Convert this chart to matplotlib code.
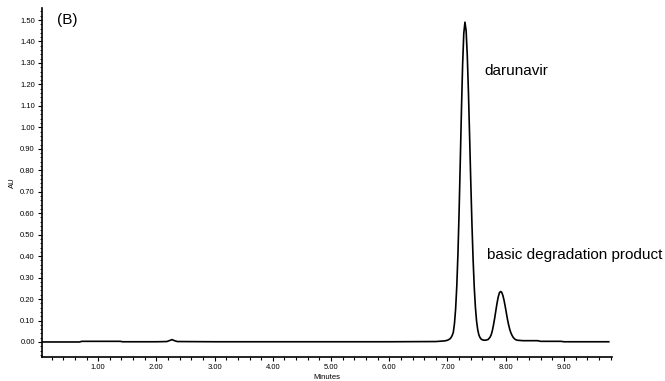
import matplotlib
matplotlib.use("Agg")
import matplotlib.pyplot as plt
from matplotlib.ticker import MultipleLocator, FormatStrFormatter

plt.rcParams['font.family'] = ['Liberation Sans', 'DejaVu Sans']

# Chromatogram points (time in minutes, absorbance in AU)
time_min = [
    0.03, 0.50, 0.68, 0.72, 1.00, 1.38, 1.42, 2.00, 2.18, 2.23, 2.27, 2.31, 2.36, 3.00,
    4.00, 5.00, 6.00, 6.80, 6.95, 7.00, 7.04, 7.06, 7.08, 7.10, 7.12, 7.14, 7.16, 7.18,
    7.20, 7.22, 7.24, 7.26, 7.28, 7.30, 7.32, 7.34, 7.36, 7.38, 7.40, 7.42, 7.44, 7.46,
    7.48, 7.50, 7.52, 7.54, 7.56, 7.58, 7.60, 7.63, 7.67, 7.70, 7.73, 7.75, 7.77, 7.79,
    7.81, 7.83, 7.85, 7.87, 7.89, 7.91, 7.93, 7.95, 7.97, 7.99, 8.01, 8.03, 8.05, 8.07,
    8.09, 8.11, 8.13, 8.15, 8.17, 8.20, 8.25, 8.30, 8.40, 8.55, 8.60, 8.95, 9.00, 9.40,
    9.77,
]
absorbance_au = [
    0.000, 0.000, 0.000, 0.003, 0.003, 0.003, 0.001, 0.001, 0.002, 0.007, 0.011, 0.006,
    0.002, 0.001, 0.001, 0.001, 0.001, 0.002, 0.005, 0.008, 0.014, 0.020, 0.030, 0.045,
    0.086, 0.155, 0.262, 0.414, 0.613, 0.844, 1.082, 1.293, 1.438, 1.490, 1.450, 1.334,
    1.162, 0.957, 0.746, 0.550, 0.384, 0.253, 0.160, 0.096, 0.056, 0.032, 0.020, 0.013,
    0.010, 0.008, 0.009, 0.012, 0.022, 0.033, 0.052, 0.079, 0.110, 0.145, 0.179, 0.208,
    0.228, 0.235, 0.232, 0.218, 0.196, 0.168, 0.137, 0.106, 0.080, 0.058, 0.042, 0.030,
    0.021, 0.015, 0.011, 0.008, 0.007, 0.006, 0.006, 0.006, 0.003, 0.003, 0.001, 0.001,
    0.001,
]

x_ticks = [1.0, 2.0, 3.0, 4.0, 5.0, 6.0, 7.0, 8.0, 9.0]
y_ticks = [0.00, 0.10, 0.20, 0.30, 0.40, 0.50, 0.60, 0.70, 0.80, 0.90, 1.00,
           1.10, 1.20, 1.30, 1.40, 1.50]

fig = plt.figure(figsize=(6.65, 3.81), dpi=100)
ax = fig.add_axes([0.0627, 0.063, 0.8571, 0.916])

ax.plot(time_min, absorbance_au, color='black', linewidth=1.2)

ax.set_xlim(0.03, 9.82)
ax.set_ylim(-0.07, 1.556)

ax.spines['top'].set_visible(False)
ax.spines['right'].set_visible(False)
for s in ('left', 'bottom'):
    ax.spines[s].set_linewidth(1.2)

ax.set_xticks(x_ticks)
ax.set_yticks(y_ticks)
ax.xaxis.set_major_formatter(FormatStrFormatter('%.2f'))
ax.yaxis.set_major_formatter(FormatStrFormatter('%.2f'))
ax.xaxis.set_minor_locator(MultipleLocator(0.2))
ax.yaxis.set_minor_locator(MultipleLocator(0.02))
ax.tick_params(axis='both', which='major', labelsize=5.5, length=3, width=0.8, pad=2)
ax.tick_params(axis='x', which='minor', length=2, width=0.8)
ax.tick_params(axis='y', which='minor', length=1.5, width=0.6)

ax.set_xlabel('Minutes', fontsize=5.5, labelpad=2)
ax.set_ylabel('AU', fontsize=5.5, labelpad=3)

ax.text(0.026, 0.966, '(B)', transform=ax.transAxes, fontsize=11, va='center', ha='left')
ax.text(7.63, 1.263, 'darunavir', fontsize=11, va='center', ha='left')
ax.text(7.68, 0.406, 'basic degradation product', fontsize=11, va='center', ha='left')

fig.savefig('out.png', dpi=100)
